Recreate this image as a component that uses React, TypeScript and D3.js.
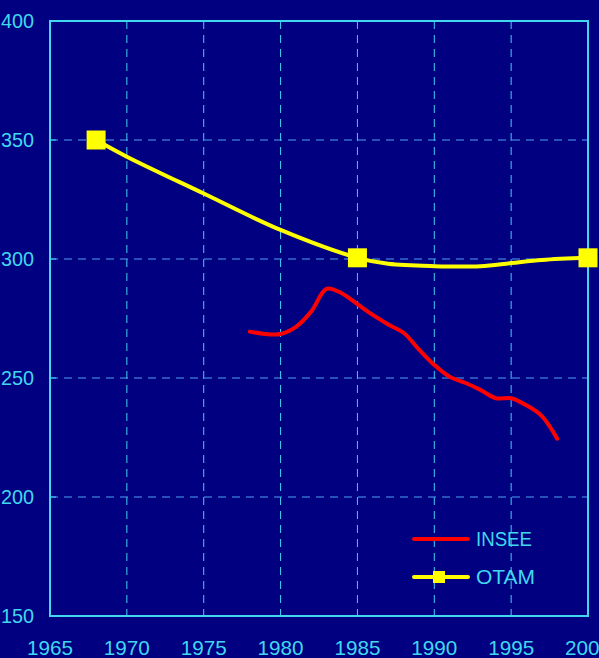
import React, {useEffect, useRef} from "react";
import * as d3 from "d3";

const inseeYears = [1978, 1979, 1980, 1981, 1982, 1983, 1984, 1985, 1986, 1987, 1988, 1989, 1990, 1991, 1992, 1993, 1994, 1995, 1996, 1997, 1998]
const inseeValues = [269.5, 268.5, 268.5, 271.5, 278, 287.5, 285.5, 281, 276.5, 272.5, 269, 262, 255.5, 250.5, 248, 245, 241.5, 241.5, 238.5, 234, 224.5]

const otamYears = [1968, 1970, 1975, 1980, 1985, 1987, 1990, 1993, 1995, 1997, 2000]
const otamValues = [350, 343, 327.5, 312.2, 300.5, 298, 297, 297, 298.3, 299.6, 300.5]
const otamMarkerYears = [1968, 1985, 2000]
const otamMarkerValues = [350, 300.5, 300.5]

const xTicks = [1965, 1970, 1975, 1980, 1985, 1990, 1995, 2000]
const yTicks = [150, 200, 250, 300, 350, 400]

const legendNames = ["INSEE", "OTAM"]

const App = () => {
    const svgRef = useRef(null)

    useEffect(() => {
        const svg = d3.select(svgRef.current)
        svg.selectAll("*").remove()

        const left = 50, right = 588, top = 21, bottom = 616
        const x = d3.scaleLinear().domain([1965, 2000]).range([left, right])
        const y = d3.scaleLinear().domain([150, 400]).range([bottom, top])
        const cyan = "#40d8f0"

        svg.append("rect").attr("width", 599).attr("height", 658).attr("fill", "#000080")

        // grid
        svg.append("g").selectAll("line").data(xTicks.slice(1, -1)).join("line")
            .attr("x1", d => x(d)).attr("x2", d => x(d))
            .attr("y1", top).attr("y2", bottom)
            .attr("stroke", "#3fd0f0").attr("stroke-width", 1).attr("stroke-dasharray", "8,6")
        svg.append("g").selectAll("line").data(yTicks.slice(1, -1)).join("line")
            .attr("x1", left).attr("x2", right)
            .attr("y1", d => y(d)).attr("y2", d => y(d))
            .attr("stroke", "#4fa0f0").attr("stroke-width", 1).attr("stroke-dasharray", "8,6")

        // frame
        svg.append("rect").attr("x", left).attr("y", top)
            .attr("width", right - left).attr("height", bottom - top)
            .attr("fill", "none").attr("stroke", cyan).attr("stroke-width", 2)

        // y ticks
        svg.append("g").selectAll("line").data(yTicks).join("line")
            .attr("x1", left).attr("x2", left + 6)
            .attr("y1", d => y(d)).attr("y2", d => y(d))
            .attr("stroke", cyan).attr("stroke-width", 1)

        const font = "'Liberation Sans', Arial, sans-serif"
        svg.append("g").selectAll("text").data(yTicks).join("text")
            .attr("x", 34).attr("y", d => y(d) + 7)
            .attr("text-anchor", "end")
            .attr("font-family", font).attr("font-size", 21)
            .attr("textLength", 33).attr("lengthAdjust", "spacingAndGlyphs")
            .attr("fill", cyan)
            .text(d => d)
        svg.append("g").selectAll("text").data(xTicks).join("text")
            .attr("x", d => x(d)).attr("y", 655)
            .attr("text-anchor", "middle")
            .attr("font-family", font).attr("font-size", 21)
            .attr("textLength", 46).attr("lengthAdjust", "spacingAndGlyphs")
            .attr("fill", cyan)
            .text(d => d)

        // series
        const line = d3.line<[number, number]>()
            .x(d => x(d[0])).y(d => y(d[1]))
            .curve(d3.curveCatmullRom.alpha(0.5))

        svg.append("path")
            .datum(otamYears.map((yr, i) => [yr, otamValues[i]] as [number, number]))
            .attr("d", line).attr("fill", "none")
            .attr("stroke", "#ffff00").attr("stroke-width", 4)
        svg.append("path")
            .datum(inseeYears.map((yr, i) => [yr, inseeValues[i]] as [number, number]))
            .attr("d", line).attr("fill", "none")
            .attr("stroke", "#ff0000").attr("stroke-width", 4)
            .attr("stroke-linejoin", "round").attr("stroke-linecap", "round")

        svg.append("g").selectAll("rect").data(otamMarkerYears).join("rect")
            .attr("x", d => x(d) - 9.5).attr("y", (d, i) => y(otamMarkerValues[i]) - 9.5)
            .attr("width", 19).attr("height", 19)
            .attr("fill", "#ffff00")

        // legend
        const lg = svg.append("g")
        const colors = ["#ff0000", "#ffff00"]
        legendNames.forEach((name, i) => {
            const ly = 539 + i * 38
            lg.append("line").attr("x1", 414).attr("x2", 468).attr("y1", ly).attr("y2", ly)
                .attr("stroke", colors[i]).attr("stroke-width", 4).attr("stroke-linecap", "round")
            if (i === 1) {
                lg.append("rect").attr("x", 433).attr("y", ly - 6).attr("width", 12).attr("height", 12).attr("fill", colors[i])
            }
            lg.append("text").attr("x", 476).attr("y", ly + 7)
                .attr("font-family", font).attr("font-size", 21)
                .attr("textLength", i === 0 ? 56 : 59).attr("lengthAdjust", "spacingAndGlyphs")
                .attr("fill", cyan).text(name)
        })
    }, [])

    return (
        <svg ref={svgRef} width={599} height={658}
             style={{position: "absolute", left: 0, top: 0, display: "block"}}/>
    );
};

export default App;
